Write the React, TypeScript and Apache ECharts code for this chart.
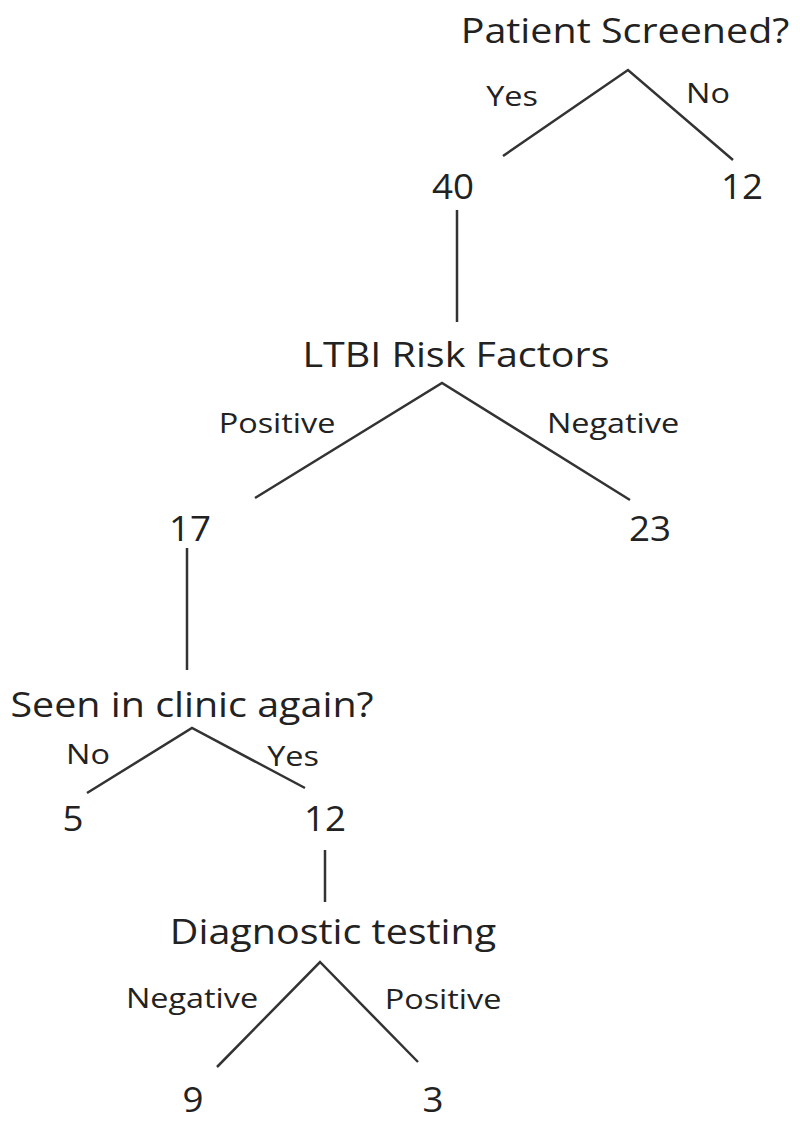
import React, { useEffect, useRef } from "react";
import * as echarts from "echarts";

// ---- data ----
const questions = ["Patient Screened?", "LTBI Risk Factors", "Seen in clinic again?", "Diagnostic testing"];
const leftBranchLabels = ["Yes", "Positive", "No", "Negative"];
const rightBranchLabels = ["No", "Negative", "Yes", "Positive"];
const leftCounts = [40, 17, 5, 9];
const rightCounts = [12, 23, 12, 3];

// ---- layout (diagram coordinates, px on an 800 x 1121 canvas) ----
const questionPos = [[625, 30], [456, 354], [192, 704], [333, 931]];
const apexPos = [[628, 70], [442, 383], [192, 728], [320, 962]];
const leftEndPos = [[503, 156], [255, 498], [87, 793], [217, 1067]];
const rightEndPos = [[733, 160], [630, 500], [305, 788], [418, 1062]];
const leftLabelPos = [[512, 96], [277, 423], [88, 754], [192, 998]];
const rightLabelPos = [[708, 93], [613, 423], [293, 756], [443, 999]];
const leftCountPos = [[453, 186], [190, 528], [73, 818], [193, 1099]];
const rightCountPos = [[742, 186], [650, 528], [325, 818], [433, 1099]];
const connectors = [
  [[457, 210], [457, 322]],
  [[187, 548], [187, 670]],
  [[325, 850], [325, 902]],
];

const TEXT = "#222222";
const LINE = "#333333";
const FONT = "'Open Sans', sans-serif";

type TextKind = "question" | "branch" | "count";
const kindStyle: Record<TextKind, { size: number; scaleX: number }> = {
  question: { size: 34, scaleX: 1.16 },
  branch: { size: 27, scaleX: 1.2 },
  count: { size: 34, scaleX: 1.08 },
};

export default function App() {
  const ref = useRef<HTMLDivElement>(null);
  useEffect(() => {
    document.body.style.margin = "0";
    const chart = echarts.init(ref.current!, null, { renderer: "svg" });

    const textItems: { name: string; value: number[]; kind: TextKind }[] = [];
    questions.forEach((q, i) => {
      textItems.push({ name: q, value: questionPos[i], kind: "question" });
      textItems.push({ name: leftBranchLabels[i], value: leftLabelPos[i], kind: "branch" });
      textItems.push({ name: rightBranchLabels[i], value: rightLabelPos[i], kind: "branch" });
      textItems.push({ name: String(leftCounts[i]), value: leftCountPos[i], kind: "count" });
      textItems.push({ name: String(rightCounts[i]), value: rightCountPos[i], kind: "count" });
    });

    const lineItems: any[] = [];
    questions.forEach((_, i) => {
      lineItems.push({ coords: [leftEndPos[i], apexPos[i], rightEndPos[i]] });
    });
    connectors.forEach((c) => lineItems.push({ coords: c }));

    chart.setOption({
      animation: false,
      backgroundColor: "#ffffff",
      grid: { left: 0, right: 0, top: 0, bottom: 0 },
      xAxis: { type: "value", min: 0, max: 800, show: false },
      yAxis: { type: "value", min: 0, max: 1121, inverse: true, show: false },
      series: [
        {
          type: "lines",
          coordinateSystem: "cartesian2d",
          polyline: true,
          silent: true,
          lineStyle: { color: LINE, width: 2.5, opacity: 1 },
          data: lineItems,
        },
        {
          type: "custom",
          silent: true,
          data: textItems.map((t) => ({ name: t.name, value: t.value })),
          renderItem: (params: any, api: any) => {
            const item = textItems[params.dataIndex];
            const p = api.coord([api.value(0), api.value(1)]);
            const ks = kindStyle[item.kind];
            return {
              type: "text",
              x: p[0],
              y: p[1],
              scaleX: ks.scaleX,
              style: {
                text: item.name,
                fill: TEXT,
                fontFamily: FONT,
                fontSize: ks.size,
                fontWeight: 500,
                align: "center",
                verticalAlign: "middle",
              },
            };
          },
        },
      ],
    });
    return () => chart.dispose();
  }, []);
  return <div ref={ref} style={{ width: 800, height: 1121 }} />;
}
